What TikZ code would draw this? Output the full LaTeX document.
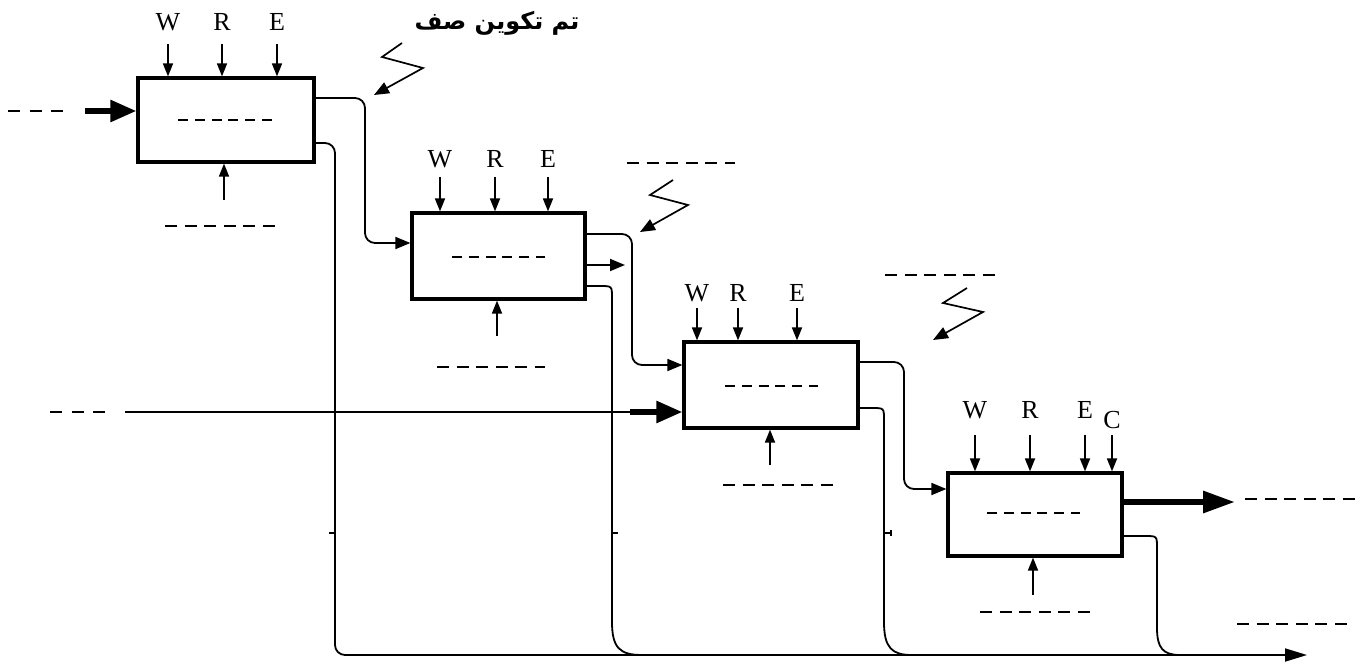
\documentclass[tikz,border=0pt]{standalone}
\usepackage{fontspec}
\setmainfont{Liberation Serif}
\newfontfamily\arabicfont[Script=Arabic]{DejaVu Sans}
\TeXXeTstate=1
\usetikzlibrary{arrows.meta}
\begin{document}
\begin{tikzpicture}[x=1pt,y=-1pt,
  box/.style={draw,line width=3.2pt,inner sep=0pt,fill=white},
  lab/.style={font=\fontsize{26}{26}\selectfont,inner sep=0pt},
  ctl/.style={line width=1.7pt,-{Triangle[length=13pt,width=10pt]}},
  flow/.style={line width=1.8pt},
  flowa/.style={flow,-{Triangle[length=15pt,width=12pt]}},
  bigarrow/.style={line width=5.5pt,-{Triangle[length=26pt,width=21pt]}},
  bolt/.style={line width=1.7pt,-{Triangle[length=15pt,width=12pt]}},
  ph/.style={line width=2pt,dash pattern=on 12pt off 7.6pt},
  phin/.style={line width=2pt,dash pattern=on 10pt off 6.8pt},
  phs/.style={line width=2pt,dash pattern=on 12pt off 9.5pt}]
\useasboundingbox (0,0) rectangle (1367,666);

% boxes
\node[box,minimum width=176pt,minimum height=84pt] (b1) at (226,120) {};
\node[box,minimum width=173pt,minimum height=86pt] (b2) at (498.5,256) {};
\node[box,minimum width=174pt,minimum height=86pt] (b3) at (771,385) {};
\node[box,minimum width=174pt,minimum height=83pt] (b4) at (1035,514.5) {};

% inner placeholders
\draw[phin] (178,120) -- (272,120);
\draw[phin] (452,257) -- (545,257);
\draw[phin] (725,386) -- (818,386);
\draw[phin] (987,513) -- (1080,513);

% control labels and arrows
\node[lab] (w1) at (168,22) {W};
\node[lab] (r1) at (222,22) {R};
\node[lab] (e1) at (277,22) {E};
\foreach \n in {w1,r1,e1} \draw[ctl,shorten <=13pt] (\n.south) -- (\n.south |- b1.north);

\node[lab] (w2) at (440,159) {W};
\node[lab] (r2) at (495,159) {R};
\node[lab] (e2) at (548,159) {E};
\foreach \n in {w2,r2,e2} \draw[ctl,shorten <=9pt] (\n.south) -- (\n.south |- b2.north);

\node[lab] (w3) at (697,293) {W};
\node[lab] (r3) at (738,293) {R};
\node[lab] (e3) at (797,293) {E};
\foreach \n in {w3,r3,e3} \draw[ctl,shorten <=6pt] (\n.south) -- (\n.south |- b3.north);

\node[lab] (w4) at (975,410) {W};
\node[lab] (r4) at (1030,410) {R};
\node[lab] (e4) at (1085,410) {E};
\node[lab] (c4) at (1112,420) {C};
\foreach \n in {w4,r4,e4} \draw[ctl,shorten <=16pt] (\n.south) -- (\n.south |- b4.north);
\draw[ctl,shorten <=6pt] (c4.south) -- (c4.south |- b4.north);

% mechanism arrows
\coordinate (m1) at (224,200);
\coordinate (m2) at (497,336);
\coordinate (m3) at (770,465);
\coordinate (m4) at (1033,595);
\draw[ctl] (m1) -- (m1 |- b1.south);
\draw[ctl] (m2) -- (m2 |- b2.south);
\draw[ctl] (m3) -- (m3 |- b3.south);
\draw[ctl] (m4) -- (m4 |- b4.south);

% placeholders below boxes and elsewhere
\draw[ph] (165,226) -- (275,226);
\draw[ph] (437,367) -- (545,367);
\draw[ph] (723,485) -- (833,485);
\draw[ph] (980,612) -- (1090,612);
\draw[ph] (627,163) -- (735,163);
\draw[ph] (885,275) -- (995,275);
\draw[ph] (1245,499) -- (1357,499);
\draw[ph] (1237,624) -- (1347,624);
\draw[phs] (8,111) -- (63,111);
\draw[phs] (50,412) -- (107,412);

% inputs
\coordinate (in1) at (85,111);
\draw[bigarrow] (in1) -- (b1.west |- in1);
\coordinate (in3) at (125,412);
\coordinate (in3b) at (630,412);
\draw[flow] (in3) -- (640,412);
\draw[bigarrow] (in3b) -- (b3.west |- in3b);

% flows between boxes
\draw[flowa,rounded corners=10pt] (b1.east |- 0,98) -| (365,243) -- (b2.west |- 0,243);
\draw[flow,-{Triangle[length=22pt,width=13pt]},rounded corners=10pt] (b1.east |- 0,143) -| (335,655) -- (1307,655);
\draw[flowa] (b2.east |- 0,265) -- (625,265);
\draw[flowa,rounded corners=10pt] (b2.east |- 0,234) -| (632,365) -- (b3.west |- 0,365);
\draw[flow] (b2.east |- 0,286) -- (600,286) .. controls (612,286) .. (612,298) -- (612,622) .. controls (612,648) and (620,655) .. (642,655);
\draw[flowa,rounded corners=10pt] (b3.east |- 0,362) -| (904,489) -- (b4.west |- 0,489);
\draw[flow] (b3.east |- 0,408) -- (872,408) .. controls (884,408) .. (884,420) -- (884,622) .. controls (884,648) and (892,655) .. (912,655);
\draw[flow] (b4.east |- 0,536) -- (1145,536) .. controls (1157,536) .. (1157,548) -- (1157,628) .. controls (1157,648) and (1163,655) .. (1180,655);
\draw[bigarrow,line width=6pt,-{Triangle[length=32pt,width=21pt]}] (b4.east |- 0,502) -- (1235,502);

% ticks
\draw[flow] (329,533) -- (335,533);
\draw[flow] (612,533) -- (618,533);
\draw[flow] (884,533) -- (891,533);
\draw[flow] (891,530) -- (891,536);

% lightning bolts
\draw[bolt] (402,43) -- (382,57) -- (423,68) -- (374,95);
\draw[bolt] (673,180) -- (650,195) -- (688,205) -- (640,232);
\draw[bolt] (967,288) -- (943,303) -- (983,312) -- (933,340);

% arabic title
\node[inner sep=0pt] (title) at (497,23) {\arabicfont\bfseries\fontsize{24}{24}\selectfont\beginR تم تكوين صف\endR};
\end{tikzpicture}
\end{document}
